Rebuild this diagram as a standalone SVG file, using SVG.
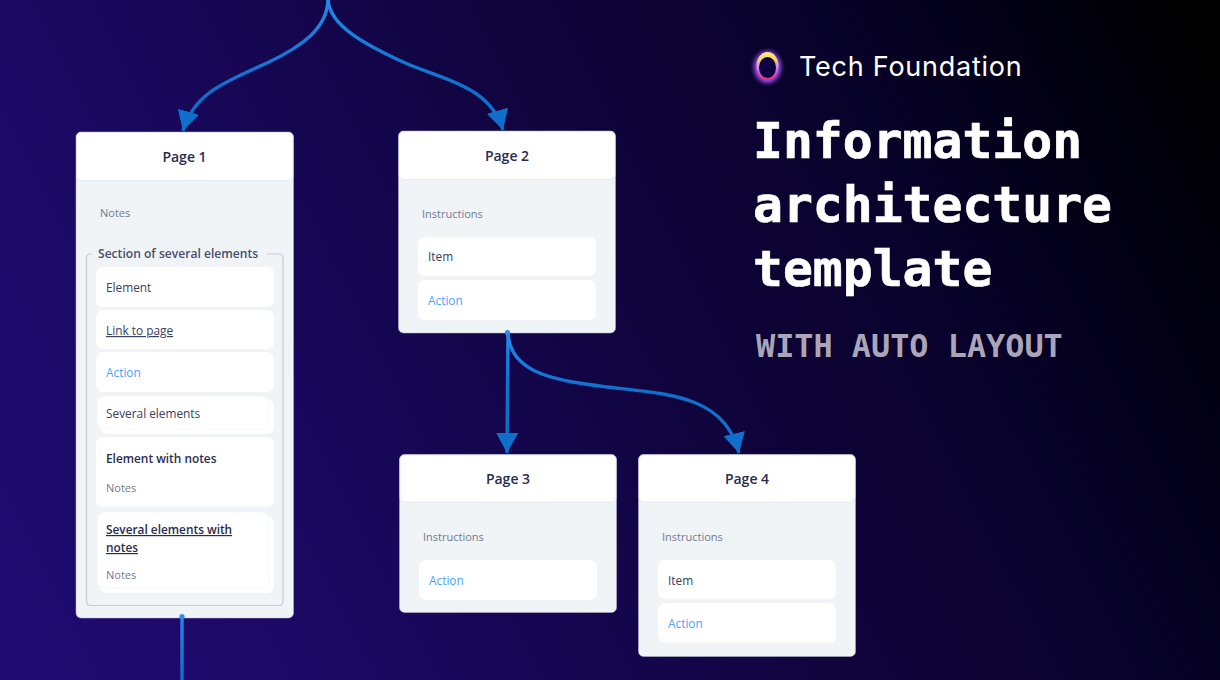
<svg xmlns="http://www.w3.org/2000/svg" width="1220" height="680" viewBox="0 0 1220 680">
<defs>
<linearGradient id="bg" gradientUnits="userSpaceOnUse" x1="0" y1="680" x2="1220" y2="60">
<stop offset="0" stop-color="#200b72"/><stop offset="0.2" stop-color="#1c0965"/><stop offset="0.33" stop-color="#170757"/><stop offset="0.55" stop-color="#10043c"/><stop offset="0.75" stop-color="#08022a"/><stop offset="0.9" stop-color="#020010"/><stop offset="1" stop-color="#000000"/>
</linearGradient>
<linearGradient id="ring" x1="0.5" y1="0" x2="0.5" y2="1"><stop offset="0" stop-color="#fff27a"/><stop offset="0.3" stop-color="#f3d060"/><stop offset="0.55" stop-color="#c98af0"/><stop offset="0.85" stop-color="#e0409a"/><stop offset="1" stop-color="#e8305e"/></linearGradient>
<linearGradient id="lineTop" gradientUnits="userSpaceOnUse" x1="0" y1="0" x2="0" y2="130"><stop offset="0" stop-color="#1f8aea"/><stop offset="0.7" stop-color="#0f6fcb"/></linearGradient>
<linearGradient id="lineMid" gradientUnits="userSpaceOnUse" x1="0" y1="333" x2="0" y2="453"><stop offset="0" stop-color="#1f8aea"/><stop offset="0.5" stop-color="#0f6fcb"/></linearGradient>
<linearGradient id="lineBot" gradientUnits="userSpaceOnUse" x1="0" y1="616" x2="0" y2="680"><stop offset="0" stop-color="#1f8aea"/><stop offset="1" stop-color="#0f6fcb"/></linearGradient>
<filter id="glow" x="-60%" y="-60%" width="220%" height="220%"><feGaussianBlur stdDeviation="2.200"/></filter>
<filter id="soft" x="-30%" y="-30%" width="160%" height="160%"><feGaussianBlur stdDeviation="0.600"/></filter>
<marker id="arrow" markerUnits="userSpaceOnUse" markerWidth="24" markerHeight="22" refX="20" refY="11" orient="auto"><path d="M0 0L20 11L0 22Z" fill="#0f6fcb"/></marker>
</defs>
<style>
text{font-family:"Open Sans","Noto Sans",sans-serif;font-size:11.850px;fill:#3a4060}
.card{fill:#f0f4f7;stroke:#b9bfd0;stroke-width:.5}
.head{fill:#fff;stroke:#dfe5ec;stroke-width:.7}
.item{fill:#fff}
.title{font-size:14px;font-weight:600;fill:#262c52;text-anchor:middle}
.note{font-size:11px;fill:#6f7b90}
.act{fill:#4aa3ff}
.bold{font-weight:600;fill:#262c52}
.con{fill:none;stroke-width:3.400}
.h1{font-family:"DejaVu Sans Mono",monospace;font-size:49.700px;font-weight:700;fill:#fff;stroke:#fff;stroke-width:.7}
</style>
<rect width="1220" height="680" fill="url(#bg)"/>
<g id="page1">
<rect class="card" x="76" y="132" width="217.500" height="486" rx="5"/>
<rect class="head" x="76.500" y="132.500" width="216.500" height="48" rx="5"/>
<text class="title" x="184.500" y="161.500">Page 1</text>
<text class="note" x="100" y="217">Notes</text>
<path d="M92 254H90Q86.500 254 86.500 258V601Q86.500 605.500 91 605.500H279Q283 605.500 283 601V258Q283 254 279 254H267" fill="none" stroke="#c3ccd6" stroke-width="1.200"/>
<text x="98" y="257.500" style="font-size:12.100px;font-weight:600;fill:#474f6d">Section of several elements</text>
<rect class="item" x="96" y="267" width="178" height="40" rx="7"/>
<text x="106" y="292">Element</text>
<rect class="item" x="96" y="310" width="178" height="39" rx="7"/>
<text x="106" y="335" text-decoration="underline">Link to page</text>
<rect class="item" x="96" y="352" width="178" height="40" rx="7"/>
<text class="act" x="106" y="377">Action</text>
<rect class="item" x="100" y="399" width="174" height="35" rx="7"/>
<rect class="item" x="97" y="396" width="172" height="33" rx="7" stroke="#f3f5f8" stroke-width=".8"/>
<text x="106" y="418">Several elements</text>
<rect class="item" x="96" y="437" width="178" height="70" rx="7"/>
<text class="bold" x="106" y="463">Element with notes</text>
<text class="note" x="106" y="492">Notes</text>
<rect class="item" x="100" y="516" width="174" height="77" rx="7"/>
<rect class="item" x="97" y="512" width="172" height="76" rx="7" stroke="#f3f5f8" stroke-width=".8"/>
<text class="bold" x="106" y="534" text-decoration="underline">Several elements with</text>
<text class="bold" x="106" y="552" text-decoration="underline">notes</text>
<text class="note" x="106" y="579">Notes</text>
</g>
<g id="page2">
<rect class="card" x="398.500" y="131" width="217" height="202" rx="5"/>
<rect class="head" x="399" y="131.500" width="216" height="48" rx="5"/>
<text class="title" x="507" y="160.500">Page 2</text>
<text class="note" x="422" y="218">Instructions</text>
<rect class="item" x="418" y="237" width="178" height="39" rx="7"/>
<text x="428" y="261">Item</text>
<rect class="item" x="418" y="280" width="178" height="40" rx="7"/>
<text class="act" x="428" y="305">Action</text>
</g>
<g id="page3">
<rect class="card" x="399.500" y="454.500" width="217" height="158" rx="5"/>
<rect class="head" x="400" y="455" width="216" height="47" rx="5"/>
<text class="title" x="508" y="484">Page 3</text>
<text class="note" x="423" y="541">Instructions</text>
<rect class="item" x="419" y="560" width="178" height="40" rx="7"/>
<text class="act" x="429" y="585">Action</text>
</g>
<g id="page4">
<rect class="card" x="638.500" y="454.500" width="217" height="202" rx="5"/>
<rect class="head" x="639" y="455" width="216" height="47" rx="5"/>
<text class="title" x="747" y="484">Page 4</text>
<text class="note" x="662" y="541">Instructions</text>
<rect class="item" x="658" y="560" width="178" height="39" rx="7"/>
<text x="668" y="584.500">Item</text>
<rect class="item" x="658" y="603" width="178" height="40" rx="7"/>
<text class="act" x="668" y="628">Action</text>
</g>
<g id="connectors">
<path class="con" stroke="url(#lineTop)" marker-end="url(#arrow)" d="M328 0C327 28 303 46 267 63C228 81 194 92 183 131"/>
<path class="con" stroke="url(#lineTop)" marker-end="url(#arrow)" d="M328 0C330 26 366 45 403 62C440 79 490 85 503 130"/>
<path class="con" stroke="url(#lineMid)" marker-end="url(#arrow)" d="M508 333L507 453"/>
<path class="con" stroke="url(#lineMid)" marker-end="url(#arrow)" d="M508 333C510 375 560 381 607 387C670 394 725 396 739 453"/>
<path class="con" stroke="url(#lineBot)" d="M182 616V680"/>
<circle cx="182" cy="616.500" r="2.600" fill="#2a8cf0"/>
<circle cx="507.500" cy="332.500" r="2.600" fill="#2a8cf0"/>
</g>
<g id="branding">
<ellipse cx="767.500" cy="67" rx="13.500" ry="16" fill="#9a50f0" filter="url(#glow)"/>
<ellipse cx="767.500" cy="66" rx="11" ry="14" fill="url(#ring)" filter="url(#soft)"/>
<ellipse cx="767.500" cy="67.500" rx="8.500" ry="10.500" fill="#0b0440" filter="url(#soft)"/>
<text x="799" y="76" style="font-family:Inter,Lato,sans-serif;font-size:27px;font-weight:400;letter-spacing:.75px;fill:#fff">Tech Foundation</text>
<text class="h1" x="753" y="158">Information</text>
<text class="h1" x="753" y="222">architecture</text>
<text class="h1" x="753" y="286">template</text>
<text x="756" y="357" style="font-family:'DejaVu Sans Mono',monospace;font-size:31.850px;font-weight:700;fill:#aaa6b8">WITH AUTO LAYOUT</text>
</g>
</svg>
